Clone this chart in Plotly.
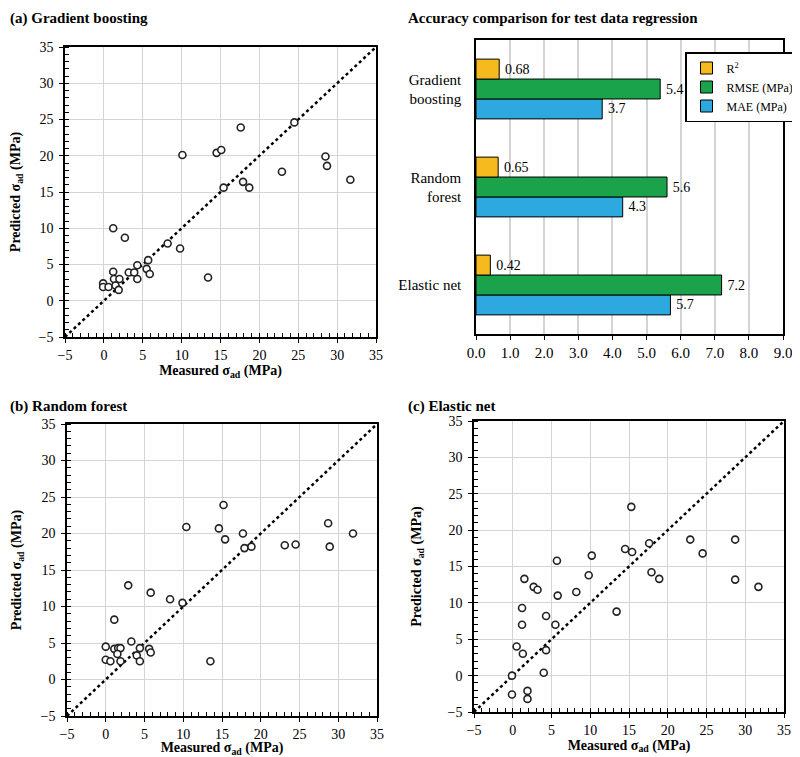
import plotly.graph_objects as go

# ---------------- data ----------------
# (a) Gradient boosting
gb_measured = [10.1, 14.5, 15.1, 17.6, 24.5, 28.5, 28.7, 22.9, 31.7, 17.9, 15.4, 18.7,
               1.2, 2.7, 8.2, 9.8, 13.4, 5.7, 4.3, 5.5, 5.9, 4.3, 3.2, 3.9,
               1.2, 1.3, 2.0, -0.1, -0.1, 0.6, 1.5, 1.9]
gb_predicted = [20.1, 20.4, 20.8, 23.9, 24.6, 19.9, 18.6, 17.8, 16.7, 16.4, 15.6, 15.6,
                10.0, 8.7, 7.9, 7.2, 3.2, 5.6, 4.9, 4.4, 3.7, 3.0, 3.9, 3.9,
                4.0, 3.0, 3.0, 2.4, 1.9, 1.9, 2.1, 1.5]

# (b) Random forest
rf_measured = [15.2, 10.4, 14.6, 28.7, 17.7, 31.9, 15.4, 17.9, 18.8, 23.1, 24.5, 28.9,
               2.9, 5.8, 8.3, 9.9, 1.1, 3.3, 0.0, 1.1, 1.6, 1.9, 4.4, 5.6,
               5.8, 1.5, 4.0, 0.0, 0.6, 1.9, 4.4, 13.5]
rf_predicted = [23.9, 20.9, 20.7, 21.4, 20.0, 20.0, 19.2, 18.0, 18.2, 18.4, 18.5, 18.2,
                12.9, 11.9, 11.0, 10.5, 8.2, 5.2, 4.5, 4.2, 4.3, 4.3, 4.3, 4.2,
                3.7, 3.5, 3.3, 2.7, 2.5, 2.5, 2.5, 2.5]

# (c) Elastic net
en_measured = [15.3, 22.9, 28.7, 17.6, 14.5, 15.4, 24.5, 10.2, 5.7, 17.9, 9.8, 1.5,
               18.9, 28.7, 2.7, 3.2, 31.7, 8.2, 5.8, 13.4, 1.2, 4.3, 1.2, 5.5,
               0.5, 1.3, 4.3, 4.0, -0.1, -0.1, 1.9, 1.9]
en_predicted = [23.2, 18.7, 18.7, 18.2, 17.4, 17.0, 16.8, 16.5, 15.8, 14.2, 13.8, 13.3,
                13.3, 13.2, 12.2, 11.8, 12.2, 11.5, 11.0, 8.8, 9.3, 8.2, 7.0, 7.0,
                4.0, 3.0, 3.5, 0.4, 0.0, -2.6, -2.1, -3.2]

# accuracy comparison
models = ["Gradient<br>boosting", "Random<br>forest", "Elastic net"]
r2_values = [0.68, 0.65, 0.42]
rmse_values = [5.4, 5.6, 7.2]
mae_values = [3.7, 4.3, 5.7]

axis_range = [-5, 35]

FONT = "Liberation Serif"
# page offset of the figure (default body margin) -> figure sized to fit the window
OX, OY = 8, 8
W, H = 800 - OX, 757 - OY

def dom_x(a, b):
    return [(a - OX) / W, (b - OX) / W]

def dom_y(top, bottom):
    return [1 - (bottom - OY) / H, 1 - (top - OY) / H]

fig = go.Figure()

scatter_sets = [
    (gb_measured, gb_predicted, "x", "y"),
    (rf_measured, rf_predicted, "x3", "y3"),
    (en_measured, en_predicted, "x4", "y4"),
]
for mx, py, xa, ya in scatter_sets:
    fig.add_trace(go.Scatter(x=axis_range, y=axis_range, mode="lines",
                             line=dict(color="black", width=2.5, dash="dot"),
                             xaxis=xa, yaxis=ya, showlegend=False, hoverinfo="skip"))
    fig.add_trace(go.Scatter(x=mx, y=py, mode="markers",
                             marker=dict(symbol="circle", size=7, color="white",
                                         line=dict(color="#222", width=1.6)),
                             xaxis=xa, yaxis=ya, showlegend=False))

# bars (added bottom-to-top within each group)
bar_specs = [
    ("MAE (MPa)", mae_values, "#2EA9E0"),
    ("RMSE (MPa)", rmse_values, "#1AA34A"),
    ("R<sup>2</sup>", r2_values, "#F7BA1E"),
]
for name, vals, col in bar_specs:
    fig.add_trace(go.Bar(y=models, x=vals, orientation="h", name=name,
                         marker=dict(color=col, line=dict(color="black", width=1)),
                         text=["\u2009" + str(v) for v in vals], textposition="outside",
                         textfont=dict(family=FONT, size=14, color="black"),
                         cliponaxis=False, xaxis="x2", yaxis="y2"))

def scat_x(dom, anchor, standoff):
    return dict(domain=dom, anchor=anchor, range=axis_range, tick0=-5, dtick=5,
                automargin=False,
                showgrid=True, gridcolor="#d4d4d4", gridwidth=1, zeroline=False,
                showline=True, linecolor="black", linewidth=1.5, mirror=True,
                ticks="outside", ticklen=4, tickcolor="black",
                minor=dict(ticks="inside", dtick=1, ticklen=4, tickcolor="black", showgrid=False),
                tickfont=dict(family=FONT, size=14, color="black"),
                title=dict(text="<b>Measured σ<sub>ad</sub> (MPa)</b>",
                           font=dict(family=FONT, size=14, color="black"), standoff=standoff))

def scat_y(dom, anchor, standoff):
    return dict(domain=dom, anchor=anchor, range=axis_range, tick0=-5, dtick=5,
                automargin=False,
                showgrid=True, gridcolor="#d4d4d4", gridwidth=1, zeroline=False,
                showline=True, linecolor="black", linewidth=1.5, mirror=True,
                ticks="outside", ticklen=4, tickcolor="black",
                minor=dict(ticks="inside", dtick=1, ticklen=4, tickcolor="black", showgrid=False),
                tickfont=dict(family=FONT, size=14, color="black"),
                ticklabelstandoff=3,
                title=dict(text="<b>Predicted σ<sub>ad</sub> (MPa)</b>",
                           font=dict(family=FONT, size=14, color="black"), standoff=standoff))

fig.update_layout(
    width=W, height=H,
    margin=dict(l=0, r=0, t=0, b=0, autoexpand=False),
    paper_bgcolor="white", plot_bgcolor="white",
    font=dict(family=FONT, size=14, color="black"),
    barmode="group", bargap=0.39, bargroupgap=0,
    xaxis=scat_x(dom_x(65, 376), "y", 4),
    yaxis=scat_y(dom_y(47, 337), "x", 16),
    xaxis3=scat_x(dom_x(67, 377), "y3", 1),
    yaxis3=scat_y(dom_y(424, 716), "x3", 16),
    xaxis4=scat_x(dom_x(474, 784), "y4", 0),
    yaxis4=scat_y(dom_y(421, 712), "x4", 23),
    xaxis2=dict(domain=dom_x(476, 783), anchor="y2", range=[0, 9], dtick=1, tickformat=".1f",
                automargin=False,
                showgrid=True, gridcolor="#d4d4d4", gridwidth=1.5, zeroline=False,
                showline=True, linecolor="black", linewidth=1.5, mirror=True,
                ticks="outside", ticklen=4, tickcolor="black",
                tickfont=dict(family=FONT, size=15, color="black")),
    yaxis2=dict(domain=dom_y(40, 334), anchor="x2", type="category",
                categoryorder="array", categoryarray=models[::-1],
                automargin=False,
                showline=True, linecolor="black", linewidth=1.5, mirror=True,
                ticks="", ticklabelstandoff=10,
                tickfont=dict(family=FONT, size=15, color="black")),
    legend=dict(x=1.0, xanchor="right", y=1 - (52 - OY) / H, yanchor="top",
                traceorder="reversed", bgcolor="white", bordercolor="black", borderwidth=1.5,
                font=dict(family=FONT, size=12, color="black"), itemwidth=30,
                tracegroupgap=0),
)

titles = [
    ("<b>(a) Gradient boosting</b>", 8, 8),
    ("<b>Accuracy comparison for test data regression</b>", 406, 8),
    ("<b>(b) Random forest</b>", 8, 396),
    ("<b>(c) Elastic net</b>", 406, 396),
]
for txt, px, py in titles:
    fig.add_annotation(text=txt, x=(px - OX) / W, y=1 - (py - OY) / H, xref="paper", yref="paper",
                       xanchor="left", yanchor="top", showarrow=False,
                       font=dict(family=FONT, size=15, color="black"))

fig.write_html("out.html")
